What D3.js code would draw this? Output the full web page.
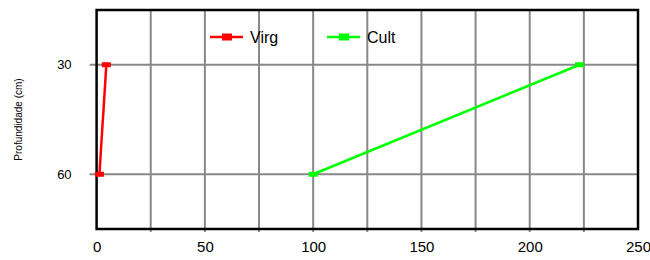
<!DOCTYPE html>
<html>
<head>
<meta charset="utf-8">
<script src="https://cdn.jsdelivr.net/npm/d3@7"></script>
<style>
  body { margin: 0; background: #fff; }
  svg { display: block; font-family: 'Liberation Sans', Arial, sans-serif; }
</style>
</head>
<body>
<div id="chart"></div>
<script>
// depth profile, two series
const depths = [30, 60];
const virg = [4.5, 1.3];
const cult = [223, 100];
const xTicks = [0, 50, 100, 150, 200, 250];
const xGrid = [25, 50, 75, 100, 125, 150, 175, 200, 225];
const yTicks = [30, 60];
const seriesNames = ['Virg', 'Cult'];
const seriesColors = ['#ff0000', '#00ff00'];

(() => {
	const width = 650;
	const height = 260;
	const margin = { top: 10, right: 12, bottom: 31, left: 96.6 };
	const plotW = width - margin.left - margin.right;
	const plotH = height - margin.top - margin.bottom;

	const svg = d3.select('#chart')
		.append('svg')
		.attr('width', width)
		.attr('height', height);

	const g = svg.append('g').attr('transform', `translate(${margin.left},${margin.top})`);

	const x = d3.scaleLinear().domain([0, 250]).range([0, plotW]);
	const y = d3.scaleLinear().domain([15, 75]).range([0, plotH]);

	// vertical grid
	g.selectAll('.vgrid')
		.data(xGrid)
		.join('line')
		.attr('x1', d => x(d)).attr('x2', d => x(d))
		.attr('y1', 0).attr('y2', plotH + 3)
		.attr('stroke', '#888').attr('stroke-width', 2);

	// horizontal grid (with ticks sticking out left)
	g.selectAll('.hgrid')
		.data(yTicks)
		.join('line')
		.attr('x1', -7).attr('x2', plotW)
		.attr('y1', d => y(d)).attr('y2', d => y(d))
		.attr('stroke', '#888').attr('stroke-width', 2);

	// frame
	g.append('rect')
		.attr('width', plotW).attr('height', plotH)
		.attr('fill', 'none').attr('stroke', '#000').attr('stroke-width', 2.5);

	// x axis labels
	const xAxis = g.append('g')
		.attr('transform', `translate(0,${plotH})`)
		.call(d3.axisBottom(x).tickValues(xTicks).tickSize(0).tickPadding(12));
	xAxis.select('.domain').remove();
	xAxis.selectAll('text')
		.attr('font-size', 15).attr('fill', '#000')
		.attr('font-family', "'Liberation Sans', Arial, sans-serif");

	// y axis labels
	const yAxis = g.append('g')
		.call(d3.axisLeft(y).tickValues(yTicks).tickSize(0).tickPadding(25));
	yAxis.select('.domain').remove();
	yAxis.selectAll('text')
		.attr('font-size', 13).attr('fill', '#000')
		.attr('font-family', "'Liberation Sans', Arial, sans-serif");

	svg.append('text')
		.attr('transform', `translate(22,${margin.top + y(45)}) rotate(-90)`)
		.attr('text-anchor', 'middle')
		.attr('font-size', 10)
		.text('Profundidade (cm)');

	const line = d3.line()
		.x(d => x(d.v))
		.y(d => y(d.d));

	[virg, cult].forEach((vals, i) => {
		const pts = vals.map((v, j) => ({ v, d: depths[j] }));
		g.append('path')
			.datum(pts)
			.attr('fill', 'none')
			.attr('stroke', seriesColors[i])
			.attr('stroke-width', 2.5)
			.attr('d', line);
		g.selectAll(null)
			.data(pts)
			.join('rect')
			.attr('x', d => x(d.v) - 4.5)
			.attr('y', d => y(d.d) - 2.5)
			.attr('width', 9).attr('height', 5)
			.attr('fill', seriesColors[i]);
	});

	// legend
	const legendX = [210, 327];
	const legend = svg.append('g');
	seriesNames.forEach((name, i) => {
		const lg = legend.append('g').attr('transform', `translate(${legendX[i]},37)`);
		lg.append('line')
			.attr('x1', 0).attr('x2', 33)
			.attr('stroke', seriesColors[i]).attr('stroke-width', 2.5);
		lg.append('rect')
			.attr('x', 12).attr('y', -3.5)
			.attr('width', 10).attr('height', 7)
			.attr('fill', seriesColors[i]);
		lg.append('text')
			.attr('x', 40).attr('y', 5.5)
			.attr('font-size', 16)
			.text(name);
	});
})();
</script>
</body>
</html>
